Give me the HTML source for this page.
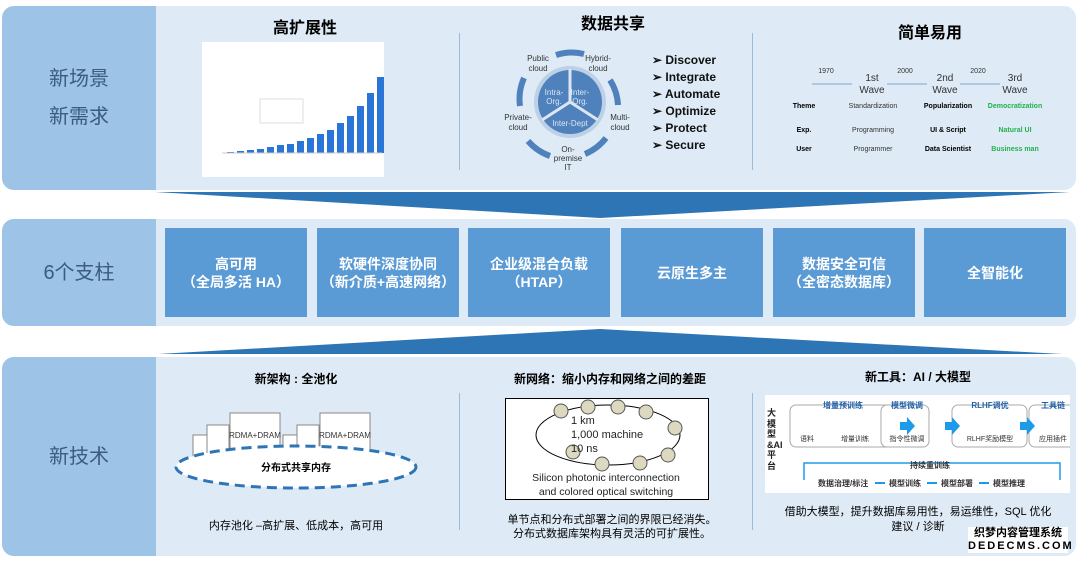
<!DOCTYPE html>
<html><head><meta charset="utf-8"><style>
body{margin:0;width:1078px;height:562px;background:#fff;position:relative;overflow:hidden;font-family:"Liberation Sans","Noto Sans CJK SC",sans-serif}
.a{position:absolute}
.panel{position:absolute;left:2px;width:1074px;background:#deeaf5;border-radius:12px;overflow:hidden}
.lab{position:absolute;left:0;top:0;bottom:0;width:154px;background:#9dc3e6;color:#3b5b80;font-size:20px;display:flex;align-items:center;justify-content:center;text-align:center;line-height:38px}
.box{position:absolute;top:228px;height:89px;background:#5b9bd5;color:#fff;font-size:14px;font-weight:bold;display:flex;align-items:center;justify-content:center;text-align:center;line-height:18px}
.t{position:absolute;font-weight:bold;text-align:center;transform:translateX(-50%);white-space:nowrap}
.vl{position:absolute;width:1px;background:#9dbbd8}
</style></head><body>
<div class="panel" style="top:6px;height:184px"><div class="lab">新场景<br>新需求</div></div>
<div class="panel" style="top:219px;height:107px"><div class="lab">6个支柱</div></div>
<div class="panel" style="top:357px;height:199px"><div class="lab">新技术</div></div>
<svg class="a" style="left:0;top:0" width="1078" height="562">
<polygon points="155,192 1070,192 600,218" fill="#2e75b6"/>
<polygon points="158,354 1062,354 600,329" fill="#2e75b6"/>
</svg>
<div class="box" style="left:165px;width:142px">高可用<br>（全局多活 HA）</div>
<div class="box" style="left:317px;width:142px">软硬件深度协同<br>（新介质+高速网络）</div>
<div class="box" style="left:468px;width:142px">企业级混合负载<br>（HTAP）</div>
<div class="box" style="left:621px;width:142px">云原生多主</div>
<div class="box" style="left:773px;width:142px">数据安全可信<br>（全密态数据库）</div>
<div class="box" style="left:924px;width:142px">全智能化</div>

<div class="vl" style="left:459px;top:33px;height:137px"></div>
<div class="vl" style="left:752px;top:33px;height:137px"></div>
<div class="t" style="left:305px;top:14px;font-size:16px">高扩展性</div>
<div class="t" style="left:613px;top:10px;font-size:16px">数据共享</div>
<div class="t" style="left:930px;top:19px;font-size:16px">简单易用</div>
<!-- chart -->
<div class="a" style="left:202px;top:42px;width:182px;height:135px;background:#fff"></div>
<svg class="a" style="left:202px;top:42px" width="182" height="135">
<g fill="#2a75d8">
<rect x="25" y="110" width="7" height="1"/><rect x="35" y="109" width="7" height="2"/><rect x="45" y="108" width="7" height="3"/><rect x="55" y="107" width="7" height="4"/><rect x="65" y="105" width="7" height="6"/><rect x="75" y="103" width="7" height="8"/><rect x="85" y="102" width="7" height="9"/><rect x="95" y="99" width="7" height="12"/><rect x="105" y="96" width="7" height="15"/><rect x="115" y="92" width="7" height="19"/><rect x="125" y="88" width="7" height="23"/><rect x="135" y="81" width="7" height="30"/><rect x="145" y="74" width="7" height="37"/><rect x="155" y="64" width="7" height="47"/><rect x="165" y="51" width="7" height="60"/><rect x="175" y="35" width="7" height="76"/>
</g>
<line x1="20" y1="111" x2="180" y2="111" stroke="#ccc"/>
<rect x="58" y="57" width="43" height="24" fill="#fff" stroke="#ddd"/>
</svg>
<!-- cycle -->
<svg class="a" style="left:490px;top:40px" width="160" height="135">
<g fill="none" stroke="#4f81bd" stroke-width="6">
<path d="M66,15 A52,52 0 0 1 94,14"/><path d="M120,40 A52,52 0 0 1 128,65"/><path d="M116,98 A52,52 0 0 1 95,114"/><path d="M60,116 A52,52 0 0 1 38,101"/><path d="M30,66 A52,52 0 0 1 34,38"/>
</g>
<circle cx="80" cy="62" r="36" fill="#bcd0e6"/><circle cx="80" cy="62" r="32" fill="#4f81bd"/>
<g stroke="#dbe6f2" stroke-width="3"><line x1="80" y1="62" x2="80" y2="29"/><line x1="80" y1="62" x2="52" y2="80"/><line x1="80" y1="62" x2="108" y2="80"/></g>
<g font-size="8" fill="#dbe6f2" text-anchor="middle" font-family="Liberation Sans"><text x="64" y="55">Intra-</text><text x="64" y="64">Org.</text><text x="90" y="55">Inter-</text><text x="90" y="64">Org.</text><text x="80" y="86">Inter-Dept</text></g>
<g font-size="8" fill="#333" text-anchor="middle" font-family="Liberation Sans"><text x="48" y="21">Public</text><text x="48" y="31">cloud</text><text x="108" y="21">Hybrid-</text><text x="108" y="31">cloud</text><text x="28" y="80">Private-</text><text x="28" y="90">cloud</text><text x="130" y="80">Multi-</text><text x="130" y="90">cloud</text><text x="78" y="112">On-</text><text x="78" y="121">premise</text><text x="78" y="130">IT</text></g>
</svg>
<div class="a" style="left:652px;top:52px;font-size:12px;font-weight:bold;line-height:17px;color:#111">➢ Discover<br>➢ Integrate<br>➢ Automate<br>➢ Optimize<br>➢ Protect<br>➢ Secure</div>
<!-- waves -->
<svg class="a" style="left:752px;top:60px" width="320" height="100" font-family="Liberation Sans">
<g stroke="#7aa6d6" stroke-width="1"><line x1="60" y1="24" x2="100" y2="24"/><line x1="135" y1="24" x2="175" y2="24"/><line x1="208" y1="24" x2="248" y2="24"/></g>
<g font-size="7" fill="#333" text-anchor="middle"><text x="74" y="13">1970</text><text x="153" y="13">2000</text><text x="226" y="13">2020</text></g>
<g font-size="10" fill="#333" text-anchor="middle"><text x="120" y="21">1st</text><text x="120" y="33">Wave</text><text x="193" y="21">2nd</text><text x="193" y="33">Wave</text><text x="263" y="21">3rd</text><text x="263" y="33">Wave</text></g>
<g font-size="7" text-anchor="middle"><text x="52" y="48" font-weight="bold">Theme</text><text x="52" y="72" font-weight="bold">Exp.</text><text x="52" y="91" font-weight="bold">User</text>
<text x="121" y="48" fill="#333">Standardization</text><text x="121" y="72" fill="#333">Programming</text><text x="121" y="91" fill="#333">Programmer</text>
<text x="196" y="48" font-weight="bold">Popularization</text><text x="196" y="72" font-weight="bold">UI &amp; Script</text><text x="196" y="91" font-weight="bold">Data Scientist</text>
<g fill="#22b14c" font-weight="bold"><text x="263" y="48">Democratization</text><text x="263" y="72">Natural UI</text><text x="263" y="91">Business man</text></g></g>
</svg>

<!-- bottom -->
<div class="vl" style="left:459px;top:393px;height:137px"></div>
<div class="vl" style="left:752px;top:393px;height:137px"></div>
<div class="t" style="left:296px;top:370px;font-size:12px">新架构 : 全池化</div>
<div class="t" style="left:610px;top:370px;font-size:12px">新网络：缩小内存和网络之间的差距</div>
<div class="t" style="left:918px;top:368px;font-size:12px">新工具：AI / 大模型</div>
<svg class="a" style="left:160px;top:400px" width="300" height="90" font-family="Liberation Sans">
<g fill="#fff" stroke="#888"><rect x="33" y="35" width="20" height="35"/><rect x="47" y="25" width="22" height="40"/><rect x="70" y="13" width="50" height="40"/><rect x="123" y="35" width="20" height="35"/><rect x="137" y="25" width="22" height="40"/><rect x="160" y="13" width="50" height="40"/></g>
<g font-size="8" fill="#333" text-anchor="middle"><text x="95" y="38">RDMA+DRAM</text><text x="185" y="38">RDMA+DRAM</text></g>
<ellipse cx="136" cy="67" rx="120" ry="21" fill="#fff" stroke="#2e75b6" stroke-width="3" stroke-dasharray="10,6"/>
<text x="136" y="71" font-size="10" font-weight="bold" text-anchor="middle" font-family="Liberation Sans,Noto Sans CJK SC">分布式共享内存</text>
</svg>
<div class="t" style="left:296px;top:517px;font-size:11px;font-weight:normal">内存池化 –高扩展、低成本，高可用</div>
<svg class="a" style="left:505px;top:398px" width="205" height="103" font-family="Liberation Sans">
<rect x="0.5" y="0.5" width="203" height="101" fill="#fff" stroke="#000"/>
<ellipse cx="103" cy="37" rx="72" ry="30" fill="none" stroke="#000"/>
<g fill="#ddd8c0" stroke="#555"><circle cx="56" cy="13" r="7"/><circle cx="83" cy="9" r="7"/><circle cx="113" cy="9" r="7"/><circle cx="141" cy="14" r="7"/><circle cx="170" cy="30" r="7"/><circle cx="163" cy="57" r="7"/><circle cx="135" cy="65" r="7"/><circle cx="97" cy="66" r="7"/><circle cx="68" cy="54" r="7"/></g>
<g font-size="11" fill="#222"><text x="66" y="26">1 km</text><text x="66" y="40">1,000 machine</text><text x="66" y="54">10 ns</text></g>
<g font-size="10.5" fill="#222" text-anchor="middle"><text x="101" y="83">Silicon photonic interconnection</text><text x="101" y="97">and colored optical switching</text></g>
</svg>
<div class="t" style="left:612px;top:513px;font-size:11px;font-weight:normal;line-height:14px">单节点和分布式部署之间的界限已经消失。<br>分布式数据库架构具有灵活的可扩展性。</div>
<!-- AI -->
<div class="a" style="left:765px;top:395px;width:305px;height:98px;background:#fff"></div>
<div class="a" style="left:767px;top:408px;font-size:9px;font-weight:bold;line-height:10.5px;width:10px;color:#222">大模型&amp;AI平台</div>
<svg class="a" style="left:765px;top:395px" width="305" height="98" font-family="Liberation Sans,Noto Sans CJK SC">
<g fill="#fff" stroke="#aaa"><rect x="25" y="10" width="105" height="42" rx="6"/><rect x="118" y="10" width="48" height="42" rx="6" transform="translate(-2,0)"/><rect x="187" y="10" width="75" height="42" rx="6"/><rect x="254" y="10" width="48" height="42" rx="6" transform="translate(10,0)"/></g>
<g fill="#1e9be8"><polygon points="135,27 142,27 142,22 150,31 142,40 142,35 135,35"/><polygon points="195,27 202,27 202,22 210,31 202,40 202,35 195,35" transform="translate(-15,0)"/><polygon points="258,27 265,27 265,22 273,31 265,40 265,35 258,35" transform="translate(-3,0)"/></g>
<g font-size="8" fill="#1f5fa8" font-weight="bold" text-anchor="middle"><text x="78" y="13">增量预训练</text><text x="142" y="13">模型微调</text><text x="225" y="13">RLHF调优</text><text x="288" y="13">工具链</text></g>
<g font-size="7" fill="#333" text-anchor="middle"><text x="42" y="46">语料</text><text x="90" y="46">增量训练</text><text x="142" y="46">指令性微调</text><text x="225" y="46">RLHF奖励模型</text><text x="288" y="46">应用插件</text></g>
<path d="M39,85 L39,68 L295,68 L295,85" fill="none" stroke="#1e9be8" stroke-width="1.5"/>
<text x="165" y="73" font-size="8" font-weight="bold" text-anchor="middle" fill="#333">持续重训练</text>
<g font-size="8" font-weight="bold" fill="#333"><text x="53" y="91">数据治理/标注</text><text x="124" y="91">模型训练</text><text x="176" y="91">模型部署</text><text x="228" y="91">模型推理</text></g>
<g stroke="#1e9be8" stroke-width="2"><line x1="110" y1="88" x2="120" y2="88"/><line x1="162" y1="88" x2="172" y2="88"/><line x1="214" y1="88" x2="224" y2="88"/></g>
</svg>
<div class="t" style="left:918px;top:505px;font-size:11px;font-weight:normal;line-height:15px">借助大模型，提升数据库易用性，易运维性，SQL 优化<br>建议 / 诊断</div>
<div class="a" style="left:968px;top:527px;font-size:11px;font-weight:bold;color:#000;line-height:13px;text-align:center;background:#fff;width:100px">织梦内容管理系统<br><span style="letter-spacing:2px">DEDECMS.COM</span></div>
</body></html>
